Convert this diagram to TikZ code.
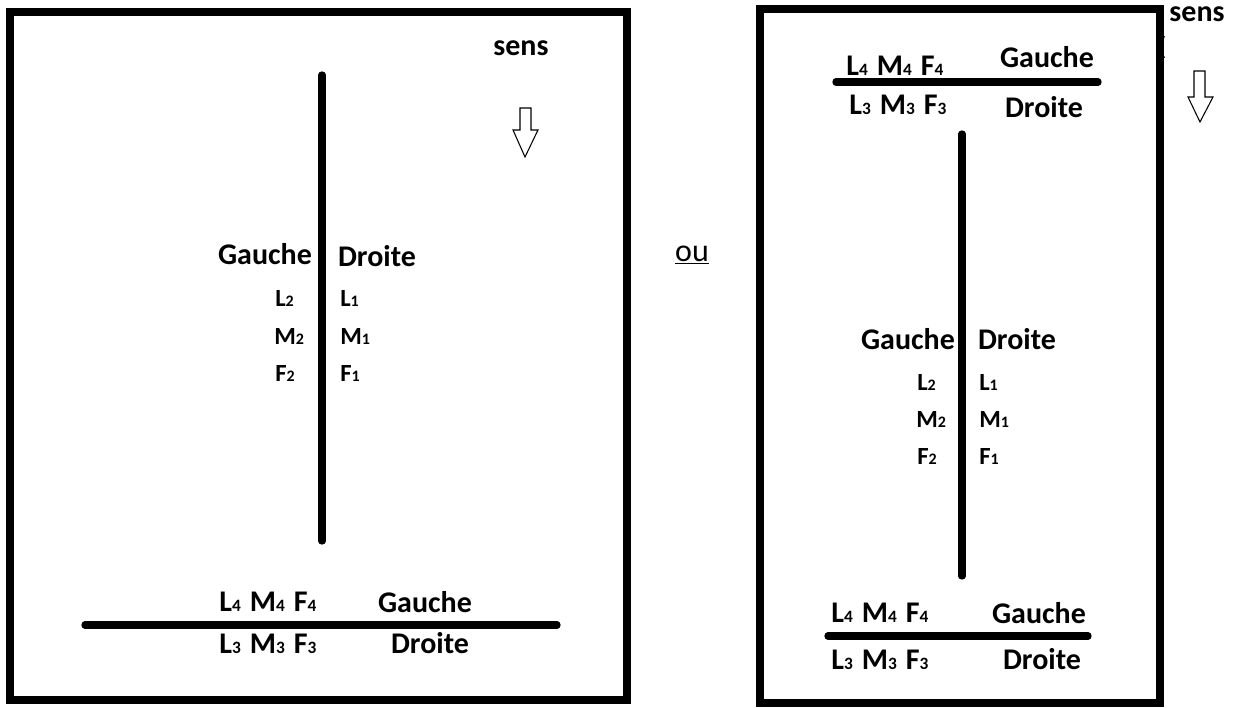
\documentclass[tikz,border=0pt]{standalone}
\usepackage{fontspec}
\setmainfont{Carlito}
\newcommand\dg[1]{{\fontsize{13}{14}\selectfont #1}}
\newcommand\dgs[1]{{\fontsize{12}{13}\selectfont #1}}
\newcommand\gap{\hspace{0.3em}}
\tikzset{
  frame/.style={draw=black, line width=6pt},
  bar/.style={draw=black, line width=5.5pt, line cap=round},
  big/.style={inner sep=0pt, font=\fontsize{22.5}{24}\selectfont\bfseries},
  small/.style={inner sep=0pt, font=\fontsize{18.5}{20}\selectfont\bfseries},
  hollow/.style={draw=black, line width=0.8pt, fill=white, line join=miter},
}
\begin{document}
\begin{tikzpicture}[x=0.75pt, y=-0.75pt]
\useasboundingbox (0,0) rectangle (1238,707);

% ---------- left panel ----------
\draw[frame] (10,12) rectangle (627,700);
\node[big] (sensA) at (521,48) {sens};
\draw[hollow] (520,108) -- (531,108) -- (531,130) -- (538,130) -- (525,157)
  -- (513,130) -- (520,130) -- cycle;

\coordinate (vA1) at (322,75);
\coordinate (vA2) at (322,541);
\draw[bar] (vA1) -- (vA2);

\node[big] (gA) at (265,254) {Gauche};
\node[big] (dA) at (377,256) {Droite};
\node[small, anchor=base west] (l2A) at (275,306) {L\dgs{2}};
\node[small, anchor=base west] (m2A) at (274,344) {M\dgs{2}};
\node[small, anchor=base west] (f2A) at (275,381) {F\dgs{2}};
\node[small, anchor=base west] (l1A) at (340,306) {L\dgs{1}};
\node[small, anchor=base west] (m1A) at (340,344) {M\dgs{1}};
\node[small, anchor=base west] (f1A) at (340,381) {F\dgs{1}};

\coordinate (hA1) at (85,625);
\coordinate (hA2) at (557,625);
\draw[bar] (hA1) -- (hA2);
\node[big] (topLA) at (268,602) {L\dg{4}\gap M\dg{4}\gap F\dg{4}};
\node[big] (gbA) at (425,602) {Gauche};
\node[big] (botLA) at (268,644) {L\dg{3}\gap M\dg{3}\gap F\dg{3}};
\node[big] (dbA) at (430,643) {Droite};

% ---------- middle ----------
\node[inner sep=0pt, font=\fontsize{24}{26}\selectfont] (ou) at (692,255) {\underline{ou}};

% ---------- right panel ----------
\draw[frame] (760,9) rectangle (1160,703);
\draw[black, line width=1.6pt] (1164,36) .. controls (1160,42) and (1160,52) .. (1164,58);
\node[big] (sensB) at (1197,14) {sens};
\draw[hollow] (1194,71) -- (1205,71) -- (1205,97) -- (1213,97) -- (1200,122)
  -- (1188,97) -- (1194,97) -- cycle;

\coordinate (hB1) at (836,82);
\coordinate (hB2) at (1098,82);
\draw[bar] (hB1) -- (hB2);
\node[big] (topLB) at (895,66) {L\dg{4}\gap M\dg{4}\gap F\dg{4}};
\node[big] (gtB) at (1047,57) {Gauche};
\node[big] (botLB) at (898,105) {L\dg{3}\gap M\dg{3}\gap F\dg{3}};
\node[big] (dtB) at (1044,107) {Droite};

\coordinate (vB1) at (962,134);
\coordinate (vB2) at (962,576);
\draw[bar] (vB1) -- (vB2);

\node[big] (gB) at (908,339) {Gauche};
\node[big] (dB) at (1017,339) {Droite};
\node[small, anchor=base west] (l2B) at (917,390) {L\dgs{2}};
\node[small, anchor=base west] (m2B) at (916,427) {M\dgs{2}};
\node[small, anchor=base west] (f2B) at (917,464) {F\dgs{2}};
\node[small, anchor=base west] (l1B) at (979,390) {L\dgs{1}};
\node[small, anchor=base west] (m1B) at (979,427) {M\dgs{1}};
\node[small, anchor=base west] (f1B) at (979,464) {F\dgs{1}};

\coordinate (hC1) at (828,636);
\coordinate (hC2) at (1088,636);
\draw[bar] (hC1) -- (hC2);
\node[big] (topLC) at (880,613) {L\dg{4}\gap M\dg{4}\gap F\dg{4}};
\node[big] (gbB) at (1039,613) {Gauche};
\node[big] (botLC) at (880,660) {L\dg{3}\gap M\dg{3}\gap F\dg{3}};
\node[big] (dbB) at (1042,659) {Droite};
\end{tikzpicture}
\end{document}
